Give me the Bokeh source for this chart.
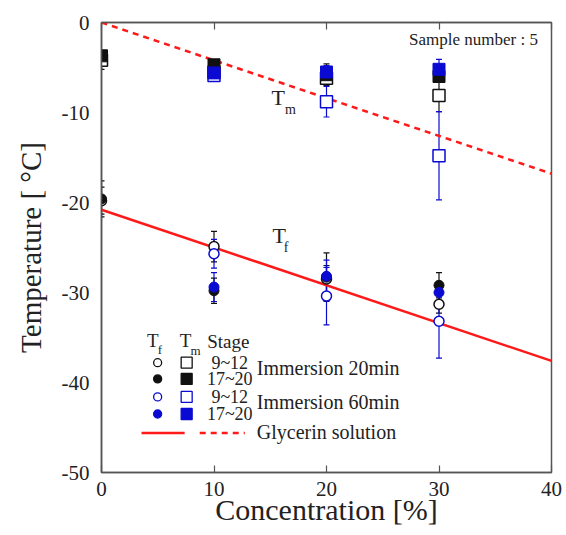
import math
from bokeh.plotting import figure
from bokeh.models import (ColumnDataSource, Whisker, TeeHead, LinearAxis, FixedTicker, Range1d)
from bokeh.core.properties import value
from bokeh.embed import file_html
from bokeh.resources import INLINE

# ---------------- data ----------------
conc20 = [0, 10, 20, 30]
conc60 = [10, 20, 30]

# freezing temperature Tf
tf_20_912 = [-19.8, -24.9, -28.5, -31.3]
tf_20_912_err = [1.5, 1.7, 1.5, 1.0]
tf_20_1720 = [-19.6, -29.8, -28.3, -29.2]
tf_20_1720_err = [2.0, 1.4, 2.7, 1.4]
tf_60_912 = [-25.7, -30.4, -33.2]
tf_60_912_err = [1.6, 3.2, 4.1]
tf_60_1720 = [-29.4, -28.2, -30.0]
tf_60_1720_err = [1.6, 1.8, 1.2]

# melting temperature Tm
tm_20_912 = [-4.2, -5.5, -6.2, -8.1]
tm_20_912_err = [1.0, 0.5, 0.5, 1.8]
tm_20_1720 = [-3.7, -4.7, -5.8, -6.0]
tm_20_1720_err = [0.5, 0.5, 1.2, 0.6]
tm_60_912 = [-5.9, -8.8, -14.8]
tm_60_912_err = [0.4, 1.7, 4.9]
tm_60_1720 = [-5.6, -5.5, -5.2]
tm_60_1720_err = [0.4, 0.7, 1.1]

# glycerin solution reference lines
gly_x = [0, 40]
gly_tf = [-20.8, -37.6]
gly_tm = [0.0, -16.8]

x_ticks = [0, 10, 20, 30, 40]
y_ticks = [0, -10, -20, -30, -40, -50]
y_tick_labels = ["0", "-10", "-20", "-30", "-40", "-50"]

# ---------------- style ----------------
FONT = "Liberation Serif"
BLACK = "#111111"
BLUE = "#0a0ad2"
RED = "#ff1a1a"
AXC = "#555555"
TXT = "#222222"

p = figure(width=562, height=534, x_range=Range1d(0, 40), y_range=Range1d(-50, 0),
           output_backend="svg", toolbar_location=None,
           min_border_left=101, min_border_top=22, min_border_right=11, min_border_bottom=62)
p.grid.visible = False
p.outline_line_color = AXC
p.outline_line_width = 1.5
p.background_fill_color = "white"
p.border_fill_color = "white"

p.xaxis.ticker = FixedTicker(ticks=x_ticks)
p.yaxis.ticker = FixedTicker(ticks=y_ticks)
p.yaxis.major_label_overrides = {t: s for t, s in zip(y_ticks, y_tick_labels)}
for ax in (p.xaxis, p.yaxis):
    ax.axis_line_color = AXC
    ax.axis_line_width = 1.5
    ax.major_tick_line_color = AXC
    ax.major_tick_line_width = 1.2
    ax.minor_tick_line_color = None
    ax.major_tick_out = 0
    ax.major_label_text_font = FONT
    ax.major_label_text_font_size = "21px"
    ax.major_label_text_color = TXT
    ax.axis_label_text_font = FONT
    ax.axis_label_text_font_style = "normal"
    ax.axis_label_text_color = TXT
p.xaxis.axis_label_text_font_size = "30px"
p.yaxis.axis_label_text_font_size = "29px"
p.xaxis.major_tick_in = 7
p.yaxis.major_tick_in = 0
p.xaxis.major_label_standoff = 9
p.yaxis.major_label_standoff = 12
p.xaxis.axis_label = "Concentration [%]"
p.yaxis.axis_label = "Temperature [ °C]"
p.xaxis.axis_label_standoff = -6
p.yaxis.axis_label_standoff = 12

top_ax = LinearAxis(ticker=FixedTicker(ticks=x_ticks), major_tick_in=7, major_tick_out=0,
                    major_tick_line_color=AXC, major_tick_line_width=1.2,
                    minor_tick_line_color=None, axis_line_color=AXC, axis_line_width=1.5,
                    major_label_text_font_size="0px", major_label_standoff=0)
p.add_layout(top_ax, "above")

# glycerin lines
p.line(gly_x, gly_tf, line_color=RED, line_width=2.5)
p.line(gly_x, gly_tm, line_color=RED, line_width=2.5, line_dash="6 5")


def errbars(xs, ys, es, color):
    up = [y + e for y, e in zip(ys, es)]
    lo = [y - e for y, e in zip(ys, es)]
    src = ColumnDataSource(dict(x=xs, upper=up, lower=lo))
    p.add_layout(Whisker(base="x", upper="upper", lower="lower", source=src,
                         line_color=color, line_width=1.2,
                         upper_head=TeeHead(size=6, line_color=color, line_width=1.2),
                         lower_head=TeeHead(size=6, line_color=color, line_width=1.2)))


errbars(conc20, tf_20_912, tf_20_912_err, BLACK)
errbars(conc20, tf_20_1720, tf_20_1720_err, BLACK)
errbars(conc20, tm_20_912, tm_20_912_err, BLACK)
errbars(conc20, tm_20_1720, tm_20_1720_err, BLACK)
errbars(conc60, tf_60_912, tf_60_912_err, BLUE)
errbars(conc60, tf_60_1720, tf_60_1720_err, BLUE)
errbars(conc60, tm_60_912, tm_60_912_err, BLUE)
errbars(conc60, tm_60_1720, tm_60_1720_err, BLUE)

CS, SS = 10, 12
p.scatter(conc20, tf_20_912, marker="circle", size=CS, fill_color="white", line_color=BLACK, line_width=1.5)
p.scatter(conc20, tm_20_912, marker="square", size=SS, fill_color="white", line_color=BLACK, line_width=1.5)
p.scatter(conc20, tf_20_1720, marker="circle", size=CS, fill_color=BLACK, line_color=BLACK, line_width=1)
p.scatter(conc20, tm_20_1720, marker="square", size=SS, fill_color=BLACK, line_color=BLACK, line_width=1)
p.scatter(conc60, tf_60_912, marker="circle", size=CS, fill_color="white", line_color=BLUE, line_width=1.5)
p.scatter(conc60, tm_60_912, marker="square", size=SS, fill_color="white", line_color=BLUE, line_width=1.5)
p.scatter(conc60, tf_60_1720, marker="circle", size=CS, fill_color=BLUE, line_color=BLUE, line_width=1)
p.scatter(conc60, tm_60_1720, marker="square", size=SS, fill_color=BLUE, line_color=BLUE, line_width=1)


def txt(x, y, s, size, align="left", color=TXT, baseline="middle"):
    p.text(x=[x], y=[y], text=[s], text_font=value(FONT), text_font_size=size,
           text_color=color, text_align=align, text_baseline=baseline)


# in-plot annotations
txt(38.8, -1.9, "Sample number : 5", "17px", align="right")
txt(15.1, -8.3, "T", "22px")
txt(16.3, -9.7, "m", "14px")
txt(15.2, -23.7, "T", "22px")
txt(16.2, -25.0, "f", "14px")

# custom legend (layout positions in data units)
LX_C, LX_S, LX_ST, LX_IM = 4.99, 7.57, 11.4, 13.8
LY = [-37.8, -39.6, -41.6, -43.5]
LY_GLY = -45.6
txt(4.05, -35.3, "T", "19px")
txt(5.0, -36.3, "f", "13px")
txt(6.95, -35.3, "T", "19px")
txt(7.9, -36.4, "m", "13px")
txt(9.4, -35.4, "Stage", "19px")
leg_styles = [("white", BLACK), (BLACK, BLACK), ("white", BLUE), (BLUE, BLUE)]
leg_stage = ["9~12", "17~20", "9~12", "17~20"]
for yy, (fc, lc), st in zip(LY, leg_styles, leg_stage):
    p.scatter([LX_C], [yy], marker="circle", size=8, fill_color=fc, line_color=lc, line_width=1.3)
    p.scatter([LX_S], [yy], marker="square", size=11, fill_color=fc, line_color=lc, line_width=1.3)
    txt(LX_ST, yy, st, "18px", align="center")
txt(LX_IM, -38.4, "Immersion 20min", "20px")
txt(LX_IM, -42.2, "Immersion 60min", "20px")
p.line([3.56, 7.39], [LY_GLY, LY_GLY], line_color=RED, line_width=2.5)
p.line([8.73, 12.74], [LY_GLY, LY_GLY], line_color=RED, line_width=2.5, line_dash="6 5")
txt(LX_IM, -45.5, "Glycerin solution", "20px")

open("out.html", "w").write(file_html(p, INLINE))
